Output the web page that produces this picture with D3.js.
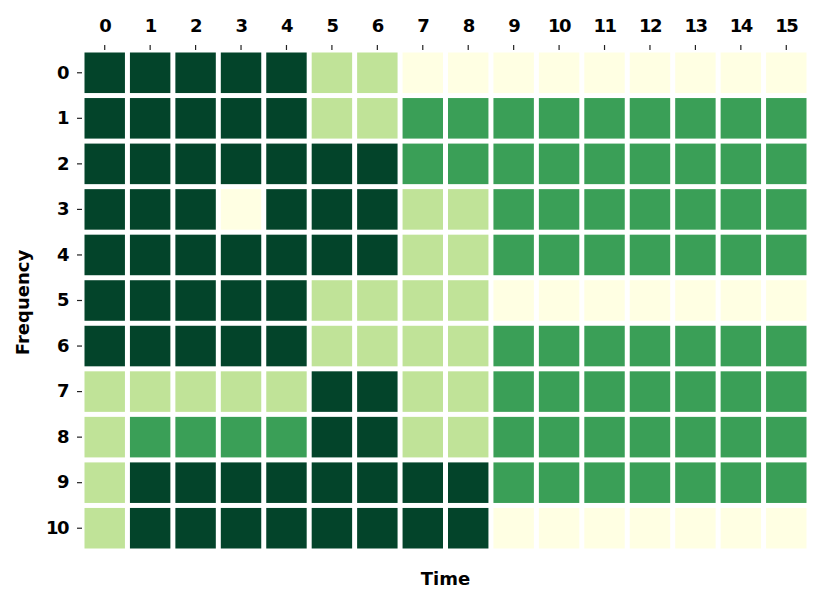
<!DOCTYPE html>
<html>
<head>
<meta charset="utf-8">
<script src="https://cdn.jsdelivr.net/npm/d3@7"></script>
<style>
  html, body { margin: 0; padding: 0; background: #fff; }
  text { font-family: "DejaVu Sans", sans-serif; font-weight: bold; fill: #000; }
</style>
</head>
<body>
<svg id="chart" width="829" height="603"></svg>
<script>
const timeLabels = ["0","1","2","3","4","5","6","7","8","9","10","11","12","13","14","15"];
const freqLabels = ["0","1","2","3","4","5","6","7","8","9","10"];
// values per frequency row (0 = pale, 3 = darkest)
const row0  = [3,3,3,3,3,1,1,0,0,0,0,0,0,0,0,0];
const row1  = [3,3,3,3,3,1,1,2,2,2,2,2,2,2,2,2];
const row2  = [3,3,3,3,3,3,3,2,2,2,2,2,2,2,2,2];
const row3  = [3,3,3,0,3,3,3,1,1,2,2,2,2,2,2,2];
const row4  = [3,3,3,3,3,3,3,1,1,2,2,2,2,2,2,2];
const row5  = [3,3,3,3,3,1,1,1,1,0,0,0,0,0,0,0];
const row6  = [3,3,3,3,3,1,1,1,1,2,2,2,2,2,2,2];
const row7  = [1,1,1,1,1,3,3,1,1,2,2,2,2,2,2,2];
const row8  = [1,2,2,2,2,3,3,1,1,2,2,2,2,2,2,2];
const row9  = [1,3,3,3,3,3,3,3,3,2,2,2,2,2,2,2];
const row10 = [1,3,3,3,3,3,3,3,3,0,0,0,0,0,0,0];
const rows = [row0,row1,row2,row3,row4,row5,row6,row7,row8,row9,row10];
const palette = ["#ffffe3","#c0e398","#3a9f57","#03442a"];

const cells = [];
rows.forEach((r, i) => r.forEach((v, j) => cells.push({f: freqLabels[i], t: timeLabels[j], v})));

const svg = d3.select("#chart");
const mLeft = 82, mRight = 809, mTop = 50, mBottom = 551;
const x = d3.scaleBand().domain(timeLabels).range([mLeft, mRight]).padding(0);
const y = d3.scaleBand().domain(freqLabels).range([mTop, mBottom]).padding(0);
const color = d3.scaleOrdinal().domain([0,1,2,3]).range(palette);
const gap = 5;

svg.append("g").selectAll("rect").data(cells).join("rect")
  .attr("x", d => x(d.t) + gap/2)
  .attr("y", d => y(d.f) + gap/2)
  .attr("width", x.bandwidth() - gap)
  .attr("height", y.bandwidth() - gap)
  .attr("fill", d => color(d.v));

const xAxis = svg.append("g").attr("transform", `translate(0,${mTop})`)
  .call(d3.axisTop(x).tickSize(5).tickPadding(13));
const yAxis = svg.append("g").attr("transform", `translate(${mLeft},0)`)
  .call(d3.axisLeft(y).tickSize(5).tickPadding(9));
[xAxis, yAxis].forEach(g => {
  g.select(".domain").remove();
  g.selectAll(".tick line").attr("stroke", "#222").attr("stroke-width", 1.2);
  g.selectAll(".tick text").style("font-size", "18px").style("font-family", "DejaVu Sans, sans-serif")
    .style("font-weight", "bold").style("letter-spacing", "-1.5px").attr("fill", "#000");
});

svg.append("text").attr("x", (mLeft + mRight) / 2).attr("y", 585)
  .attr("text-anchor", "middle").style("font-size", "18px").text("Time");
svg.append("text").attr("transform", `translate(29,${(mTop + mBottom) / 2 + 2}) rotate(-90)`)
  .attr("text-anchor", "middle").style("font-size", "18px").text("Frequency");
</script>
</body>
</html>
